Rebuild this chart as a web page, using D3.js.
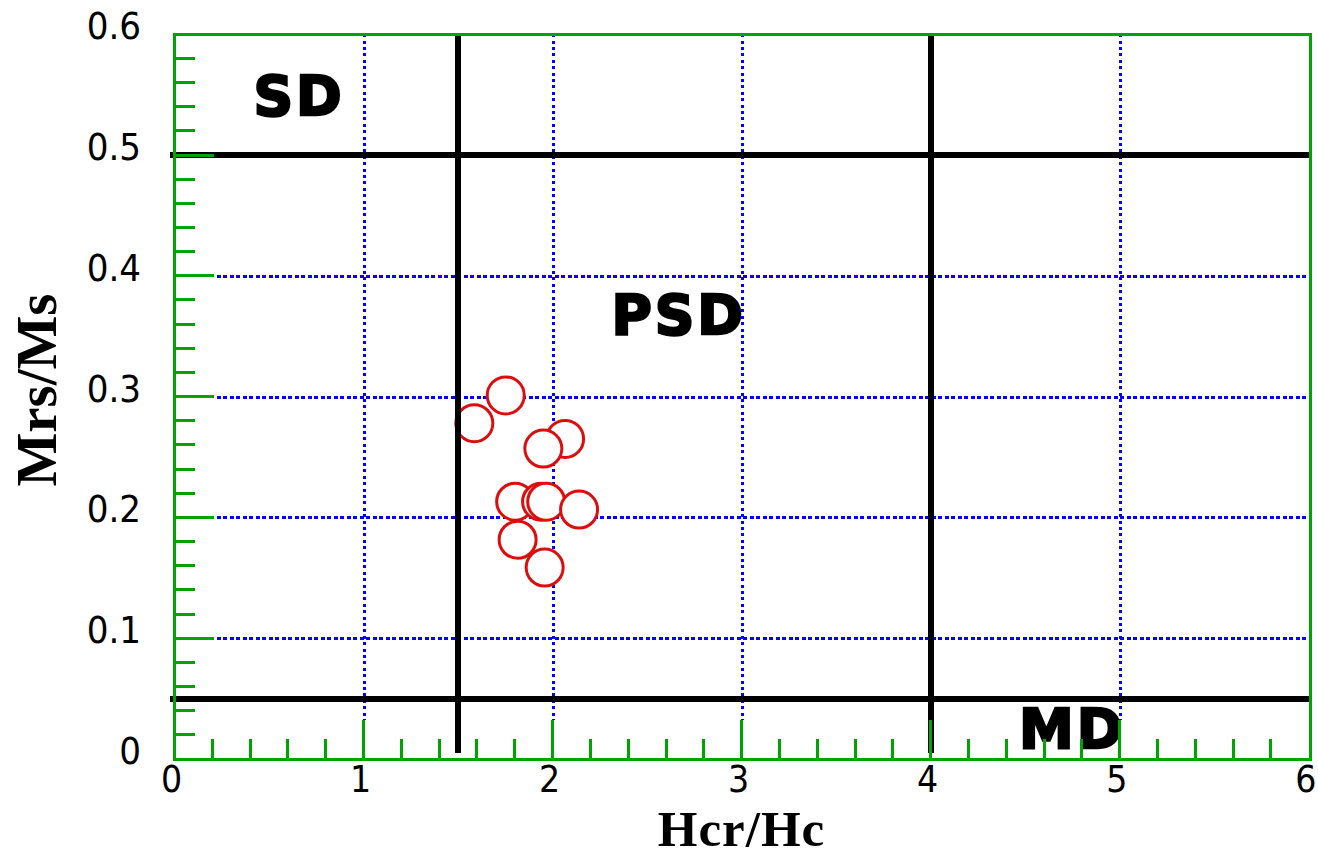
<!DOCTYPE html>
<html>
<head>
<meta charset="utf-8">
<script src="https://cdn.jsdelivr.net/npm/d3@7"></script>
<style>
  html, body { margin: 0; padding: 0; background: #ffffff; }
  svg { display: block; }
</style>
</head>
<body>
<svg id="chart" width="1318" height="857"></svg>
<script>
// ---- data ----
const hcrHc = [1.752, 1.586, 2.066, 1.951, 1.802, 1.939, 1.966, 2.140, 1.815, 1.958];
const mrsMs = [0.301, 0.278, 0.265, 0.257, 0.213, 0.213, 0.213, 0.2065, 0.1815, 0.1585];
const xTickValues = [0, 1, 2, 3, 4, 5, 6];
const xTickLabels = ["0", "1", "2", "3", "4", "5", "6"];
const yTickValues = [0, 0.1, 0.2, 0.3, 0.4, 0.5, 0.6];
const yTickLabels = ["0", "0.1", "0.2", "0.3", "0.4", "0.5", "0.6"];
const boundaryX = [1.5, 4];
const boundaryY = [0.5, 0.05];
const regionNames = ["SD", "PSD", "MD"];
const regionX = [0.659, 2.667, 4.749];
const regionY = [0.533, 0.352, 0.009];
const xTitle = "Hcr/Hc";
const yTitle = "Mrs/Ms";

// ---- layout ----
const svg = d3.select("#chart");
const x = d3.scaleLinear().domain([0, 6]).range([174.5, 1308.8]);
const y = d3.scaleLinear().domain([0, 0.6]).range([759, 34.2]);
const green = "#00a400";
const majorLen = 39, minorLen = 20;

svg.append("rect").attr("width", 1318).attr("height", 857).attr("fill", "#ffffff");

// grid (dotted blue) at major ticks
const gx = xTickValues.filter(v => v > 0 && v < 6);
const gy = yTickValues.filter(v => v > 0 && v < 0.6);
svg.append("g").attr("shape-rendering", "crispEdges").selectAll("line").data(gx).join("line")
  .attr("x1", d => Math.round(x(d))).attr("x2", d => Math.round(x(d)))
  .attr("y1", y(0.6)).attr("y2", y(0) - majorLen)
  .attr("stroke", "#0000ff").attr("stroke-width", 3)
  .attr("stroke-dasharray", "3,3.4");
svg.append("g").attr("shape-rendering", "crispEdges").selectAll("line").data(gy).join("line")
  .attr("x1", x(0) + majorLen + 3).attr("x2", x(6))
  .attr("y1", d => Math.round(y(d))).attr("y2", d => Math.round(y(d)))
  .attr("stroke", "#0000ff").attr("stroke-width", 3)
  .attr("stroke-dasharray", "4,2.5");

// region labels
const regionFont = "'DejaVu Sans', sans-serif";
svg.append("g").selectAll("text").data(regionNames).join("text")
  .attr("x", (d, i) => x(regionX[i]))
  .attr("y", (d, i) => y(regionY[i]))
  .attr("text-anchor", "middle")
  .attr("font-family", regionFont)
  .attr("font-weight", "bold")
  .attr("font-size", 55)
  .attr("letter-spacing", 3)
  .attr("fill", "#000").attr("stroke", "#000").attr("stroke-width", 2.5)
  .text(d => d);

// data points: white-filled red circles
const pts = hcrHc.map((v, i) => ({ x: v, y: mrsMs[i] }));
svg.append("g").selectAll("circle").data(pts).join("circle")
  .attr("cx", d => x(d.x)).attr("cy", d => y(d.y))
  .attr("r", 18.5)
  .attr("fill", "#ffffff")
  .attr("stroke", "#dd0d0d").attr("stroke-width", 3);

// domain boundaries (thick black)
svg.append("g").attr("shape-rendering", "crispEdges").selectAll("line").data(boundaryX).join("line")
  .attr("x1", d => x(d)).attr("x2", d => x(d))
  .attr("y1", y(0.6)).attr("y2", y(0) - 6)
  .attr("stroke", "#000").attr("stroke-width", 6);
svg.append("g").attr("shape-rendering", "crispEdges").selectAll("line").data(boundaryY).join("line")
  .attr("x1", x(0) - 4.5).attr("x2", x(6))
  .attr("y1", d => y(d)).attr("y2", d => y(d))
  .attr("stroke", "#000").attr("stroke-width", 6);

// frame
svg.append("rect").attr("shape-rendering", "crispEdges")
  .attr("x", x(0)).attr("y", y(0.6))
  .attr("width", x(6) - x(0) + 1.5).attr("height", y(0) - y(0.6))
  .attr("fill", "none").attr("stroke", green).attr("stroke-width", 3);

// ticks: x minor every 0.2, major every 1
const xMinor = d3.range(0, 31).map(i => i * 0.2).filter(v => v > 0.01 && v < 5.99);
svg.append("g").attr("shape-rendering", "crispEdges").selectAll("line").data(xMinor).join("line")
  .attr("x1", d => x(d)).attr("x2", d => x(d))
  .attr("y1", y(0)).attr("y2", d => y(0) - (Math.abs(d - Math.round(d)) < 0.01 ? majorLen : minorLen))
  .attr("stroke", green).attr("stroke-width", 3);
const yMinor = d3.range(0, 31).map(i => i * 0.02).filter(v => v > 0.001 && v < 0.599);
svg.append("g").attr("shape-rendering", "crispEdges").selectAll("line").data(yMinor).join("line")
  .attr("y1", d => y(d)).attr("y2", d => y(d))
  .attr("x1", x(0)).attr("x2", d => x(0) + (Math.abs(d * 10 - Math.round(d * 10)) < 0.01 ? majorLen : minorLen))
  .attr("stroke", green).attr("stroke-width", 3);

// tick labels
const tickFont = "'Liberation Sans Narrow', 'DejaVu Sans Condensed', sans-serif";
svg.append("g").selectAll("text").data(xTickValues).join("text")
  .attr("x", d => x(d) - 3).attr("y", y(0) + 33)
  .attr("text-anchor", "middle")
  .attr("font-family", tickFont).attr("font-size", 37).attr("fill", "#000")
  .text((d, i) => xTickLabels[i]);
svg.append("g").selectAll("text").data(yTickValues).join("text")
  .attr("x", 141).attr("y", d => y(d) + 5)
  .attr("text-anchor", "end")
  .attr("font-family", tickFont).attr("font-size", 38).attr("fill", "#000")
  .text((d, i) => yTickLabels[i]);

// axis titles
svg.append("text")
  .attr("x", 741.5).attr("y", 846)
  .attr("text-anchor", "middle")
  .attr("font-family", "'Liberation Serif', 'Times New Roman', serif")
  .attr("font-weight", "bold").attr("font-size", 51).attr("fill", "#000")
  .attr("letter-spacing", 1)
  .text(xTitle);
svg.append("text")
  .attr("transform", "translate(56,390) rotate(-90)")
  .attr("text-anchor", "middle")
  .attr("font-family", "'Liberation Serif', 'Times New Roman', serif")
  .attr("font-weight", "bold").attr("font-size", 57).attr("fill", "#000")
  .text(yTitle);
</script>
</body>
</html>
